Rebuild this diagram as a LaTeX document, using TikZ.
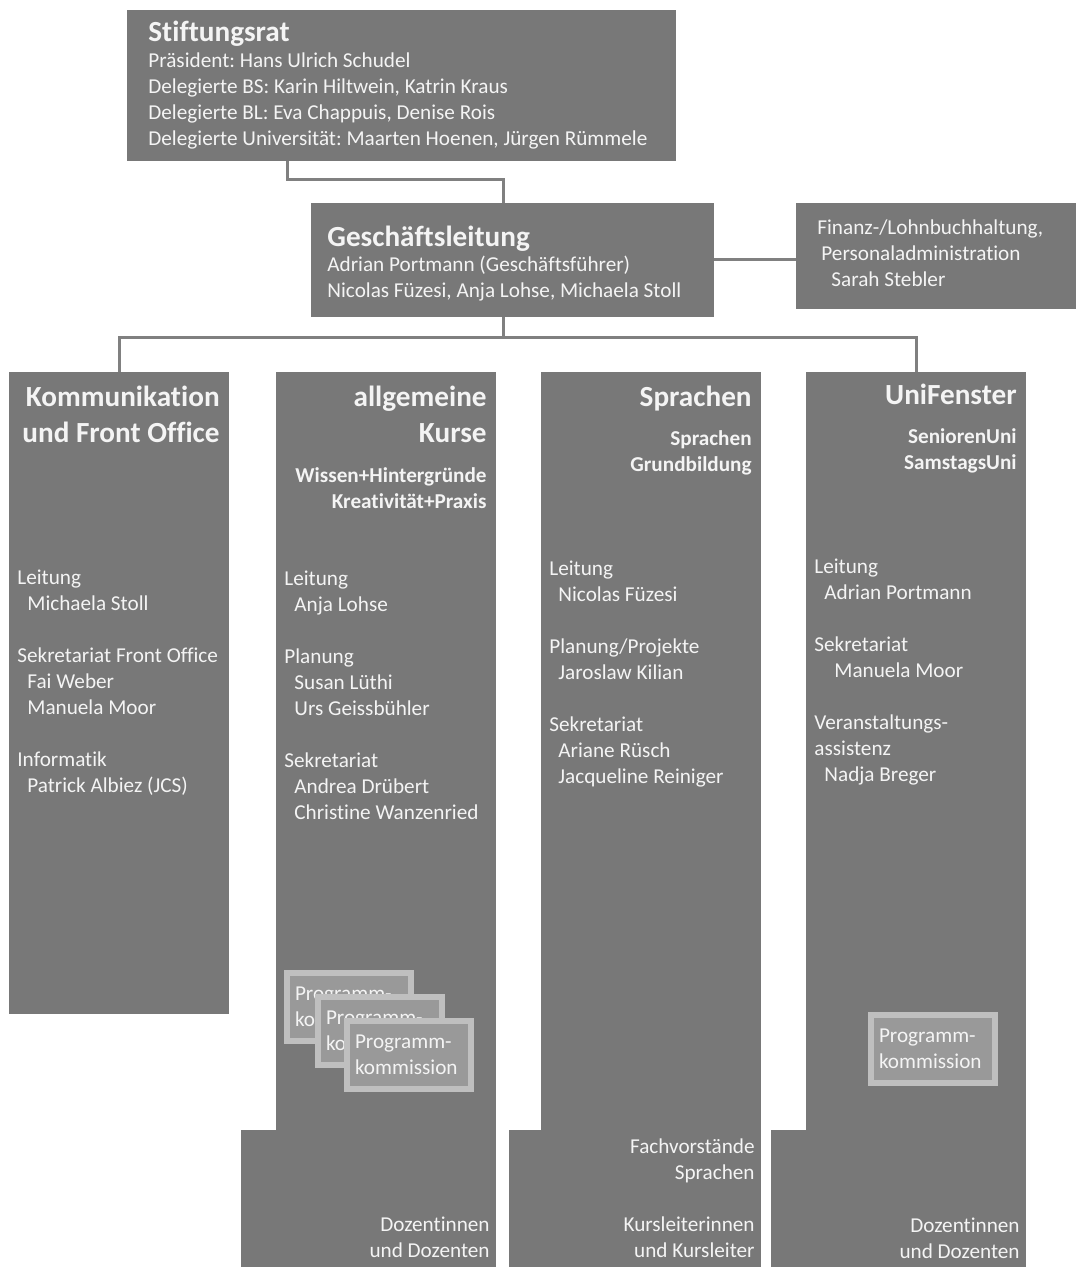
\documentclass[tikz,border=0pt]{standalone}
\usepackage{fontspec}
\setmainfont{Carlito}[Ligatures=NoCommon]
\frenchspacing
\usetikzlibrary{positioning}
\definecolor{boxgray}{HTML}{787878}
\definecolor{linegray}{HTML}{808080}
\definecolor{pkfill}{HTML}{999999}
\definecolor{pkline}{HTML}{BFBFBF}
\definecolor{paper}{HTML}{F4F4F4}

\begin{document}
\begin{tikzpicture}[x=0.5pt, y=-0.5pt,
    box/.style={fill=boxgray, draw=none, inner sep=0pt, outer sep=0pt, anchor=north west},
    conn/.style={draw=linegray, line width=1.5pt},
    body/.style={text=paper, font=\fontsize{10.6}{13}\selectfont, align=left, inner sep=0pt, anchor=north west},
    bodyr/.style={body, align=right, anchor=north east},
    head/.style={text=paper, font=\fontsize{14.6}{18}\selectfont\bfseries, align=right, inner sep=0pt, anchor=north east},
    headl/.style={head, align=left, anchor=north west},
    sub/.style={text=paper, font=\fontsize{10.6}{13}\selectfont\bfseries, align=right, inner sep=0pt, anchor=north east},
    pk/.style={fill=pkfill, draw=pkline, line width=3pt, minimum width=62pt, minimum height=34pt,
        text width=54pt, inner xsep=3pt, inner ysep=0pt, align=left, anchor=north west,
        text=paper, font=\fontsize{10.6}{13}\selectfont}]
    \useasboundingbox (0,0) rectangle (1078,1267);

    \node[box, minimum width=274.5pt, minimum height=75.5pt] (rat) at (127,10) {};
    \node[box, minimum width=201.5pt, minimum height=57pt] (gl) at (311,203) {};
    \node[box, minimum width=140pt, minimum height=53pt] (fin) at (796,203) {};

    \node[box, minimum width=110pt, minimum height=321pt] (kom) at (9,372) {};
    \node[box, minimum width=110pt, minimum height=379.5pt] (ak) at (276,372) {};
    \node[box, minimum width=127.5pt, minimum height=68.5pt] (akbase) at (241,1130) {};
    \node[box, minimum width=110pt, minimum height=379.5pt] (spr) at (541,372) {};
    \node[box, minimum width=126pt, minimum height=68.5pt] (sprbase) at (509,1130) {};
    \node[box, minimum width=110pt, minimum height=379.5pt] (uni) at (806,372) {};
    \node[box, minimum width=127.5pt, minimum height=68.5pt] (unibase) at (771,1130) {};

    \coordinate (j1) at (287,180);
    \coordinate (j2) at (503,180);
    \coordinate (j3) at (503,337);
    \draw[conn] (rat.south -| j1) |- (j2) -- (gl.north -| j2);
    \draw[conn] (gl.east) -- (gl.east -| fin.west);
    \draw[conn] (gl.south -| j3) -- (j3);
    \draw[conn] (kom.north) |- (uni.north |- j3) -- (uni.north);

    \node[headl] (rattitle) at (148,21) {Stiftungsrat};
    \node[body] (ratbody) at (148,52) {Präsident: Hans Ulrich Schudel\\
        Delegierte BS: Karin Hiltwein, Katrin Kraus\\
        Delegierte BL: Eva Chappuis, Denise Rois\\
        Delegierte Universität: Maarten Hoenen, Jürgen Rümmele};
    \node[headl] (gltitle) at (327,226) {Geschäftsleitung};
    \node[body] (glbody) at (327,256) {Adrian Portmann (Geschäftsführer)\\
        Nicolas Füzesi, Anja Lohse, Michaela Stoll};
    \node[body] (finbody) at (817,219) {Finanz-/Lohnbuchhaltung,\\
        \hspace*{2pt}Personaladministration\\
        \hspace*{7pt}Sarah Stebler};

    \node[head] (komtitle) at (220,386) {Kommunikation\\und Front Office};
    \node[body] (kombody) at (17,570) {Leitung\\
        \hspace*{5pt}Michaela Stoll\\[13pt]
        Sekretariat Front Office\\
        \hspace*{5pt}Fai Weber\\
        \hspace*{5pt}Manuela Moor\\[13pt]
        Informatik\\
        \hspace*{5pt}Patrick Albiez (JCS)};

    \node[head] (aktitle) at (487,386) {allgemeine\\Kurse};
    \node[sub] (aksub) at (487,467) {Wissen+Hintergründe\\Kreativität+Praxis};
    \node[body] (akbody) at (284,571) {Leitung\\
        \hspace*{5pt}Anja Lohse\\[13pt]
        Planung\\
        \hspace*{5pt}Susan Lüthi\\
        \hspace*{5pt}Urs Geissbühler\\[13pt]
        Sekretariat\\
        \hspace*{5pt}Andrea Drübert\\
        \hspace*{5pt}Christine Wanzenried};
    \node[pk] (pk1) at (284,970) {Programm-\\kommission};
    \node[pk] (pk2) at (315,994) {Programm-\\kommission};
    \node[pk] (pk3) at (344,1018) {Programm-\\kommission};
    \node[bodyr] (akfoot) at (490,1216) {Dozentinnen\\und Dozenten};

    \node[head] (sprtitle) at (752,386) {Sprachen};
    \node[sub] (sprsub) at (752,430) {Sprachen\\Grundbildung};
    \node[body] (sprbody) at (549,561) {Leitung\\
        \hspace*{4.5pt}Nicolas Füzesi\\[13pt]
        Planung/Projekte\\
        \hspace*{4.5pt}Jaroslaw Kilian\\[13pt]
        Sekretariat\\
        \hspace*{4.5pt}Ariane Rüsch\\
        \hspace*{4.5pt}Jacqueline Reiniger};
    \node[bodyr] (sprfoot) at (755,1138) {Fachvorstände\\Sprachen\\[13pt]
        Kursleiterinnen\\und Kursleiter};

    \node[head] (unititle) at (1017,384) {UniFenster};
    \node[sub] (unisub) at (1017,428) {SeniorenUni\\SamstagsUni};
    \node[body] (unibody) at (814,559) {Leitung\\
        \hspace*{5pt}Adrian Portmann\\[13pt]
        Sekretariat\\
        \hspace*{10pt}Manuela Moor\\[13pt]
        Veranstaltungs-\\
        assistenz\\
        \hspace*{5pt}Nadja Breger};
    \node[pk] (pk4) at (868,1012) {Programm-\\kommission};
    \node[bodyr] (unifoot) at (1020,1217) {Dozentinnen\\und Dozenten};
\end{tikzpicture}
\end{document}
